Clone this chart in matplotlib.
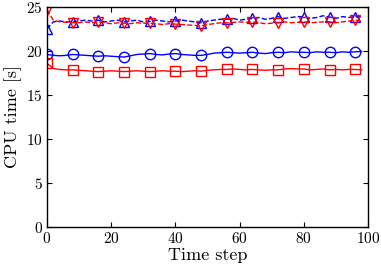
import matplotlib
matplotlib.use("Agg")
import matplotlib.pyplot as plt

# ---------------------------------------------------
# DATA (every 2nd time step)
# ---------------------------------------------------
steps = list(range(0, 100, 2))

blue_circle = [19.6, 19.5, 19.45, 19.5, 19.6, 19.55, 19.5, 19.45, 19.4, 19.45,
               19.4, 19.35, 19.3, 19.45, 19.6, 19.65, 19.7, 19.6, 19.55, 19.65,
               19.7, 19.6, 19.55, 19.5, 19.5, 19.6, 19.75, 19.8, 19.85, 19.8,
               19.75, 19.8, 19.85, 19.75, 19.7, 19.8, 19.85, 19.8, 19.9, 19.85,
               19.85, 19.8, 19.9, 19.85, 19.85, 19.8, 19.9, 19.85, 19.9, 19.95]

red_square = [18.6, 18.0, 17.9, 17.85, 17.85, 17.8, 17.75, 17.7, 17.65, 17.7,
              17.75, 17.7, 17.65, 17.7, 17.75, 17.7, 17.65, 17.7, 17.75, 17.7,
              17.7, 17.65, 17.7, 17.75, 17.7, 17.8, 17.85, 17.9, 17.9, 17.95,
              17.9, 17.85, 17.9, 17.85, 17.8, 17.85, 17.85, 17.95, 18.0, 17.95,
              17.95, 17.85, 17.9, 17.95, 17.85, 17.9, 17.85, 17.9, 17.9, 17.85]

blue_tri_up = [22.5, 23.3, 23.4, 23.3, 23.3, 23.4, 23.5, 23.4, 23.5, 23.3,
               23.4, 23.5, 23.3, 23.4, 23.5, 23.3, 23.35, 23.5, 23.4, 23.3,
               23.4, 23.5, 23.4, 23.3, 23.2, 23.4, 23.5, 23.6, 23.6, 23.7,
               23.5, 23.6, 23.7, 23.8, 23.6, 23.7, 23.9, 23.7, 23.8, 23.9,
               23.9, 23.7, 23.8, 24.0, 23.85, 23.7, 23.9, 23.8, 23.9, 23.85]

red_tri_down = [24.7, 23.5, 23.3, 23.25, 23.2, 23.2, 23.3, 23.2, 23.3, 23.2,
                23.1, 23.2, 23.15, 23.1, 23.2, 23.15, 23.15, 23.1, 23.0, 23.1,
                23.05, 23.0, 22.95, 22.9, 22.85, 23.0, 23.1, 23.2, 23.2, 23.25,
                23.3, 23.25, 23.3, 23.2, 23.1, 23.15, 23.2, 23.3, 23.2, 23.25,
                23.3, 23.2, 23.25, 23.3, 23.3, 23.2, 23.3, 23.4, 23.5, 23.4]

x_ticks = [0, 20, 40, 60, 80, 100]
y_ticks = [0, 5, 10, 15, 20, 25]

# ---------------------------------------------------
# STYLE
# ---------------------------------------------------
plt.rcParams["font.family"] = "serif"
plt.rcParams["font.serif"] = ["cmr10", "DejaVu Serif"]
plt.rcParams["mathtext.fontset"] = "cm"
plt.rcParams["axes.formatter.use_mathtext"] = True
plt.rcParams["xtick.direction"] = "in"
plt.rcParams["ytick.direction"] = "in"
plt.rcParams["xtick.top"] = True
plt.rcParams["ytick.right"] = True

fig = plt.figure(figsize=(3.81, 2.67), dpi=100)
ax = fig.add_axes([0.123, 0.150, 0.843, 0.824])

common = dict(markevery=4, markersize=7.5, markerfacecolor="none",
              markeredgewidth=1.0, linewidth=1.0)

ax.plot(steps, blue_tri_up, "--", color="blue", marker="^",
        markeredgecolor="blue", **common)
ax.plot(steps, red_tri_down, "--", color="red", marker="v",
        markeredgecolor="red", **common)
ax.plot(steps, blue_circle, "-", color="blue", marker="o",
        markeredgecolor="blue", **common)
ax.plot(steps, red_square, "-", color="red", marker="s",
        markeredgecolor="red", **common)

ax.set_xlim(0, 100)
ax.set_ylim(0, 25)
ax.set_xticks(x_ticks)
ax.set_yticks(y_ticks)
ax.tick_params(labelsize=11, length=3.5, width=0.8, pad=3)
ax.set_xlabel("Time step", fontsize=13, labelpad=1)
ax.set_ylabel("CPU time [s]", fontsize=13, labelpad=3)

for spine in ax.spines.values():
    spine.set_linewidth(1.0)

fig.savefig("out.png", dpi=100)
